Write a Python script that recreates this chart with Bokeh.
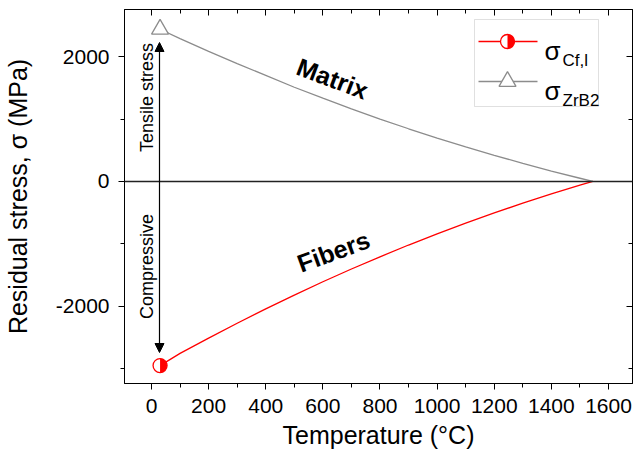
import math
from bokeh.plotting import figure
from bokeh.models import (Range1d, FixedTicker, LinearAxis, Span, Label, Arrow,
                          NormalHead, BoxAnnotation)
from bokeh.embed import file_html
from bokeh.resources import INLINE

# ---------------- data ----------------
TEMP = [30, 100, 200, 300, 400, 500, 600, 700, 800, 900, 1000, 1100, 1200, 1300, 1400, 1500, 1545]
SIGMA_ZRB2 = [2440, 2290, 2085, 1890, 1700, 1510, 1335, 1165, 1000, 845, 695, 555, 420, 290, 168, 52, 0]
SIGMA_CF = [-2950, -2755, -2510, -2272, -2042, -1822, -1607, -1402, -1207, -1018, -838, -666, -503, -348, -200, -58, 0]

X_TICKS = [0, 200, 400, 600, 800, 1000, 1200, 1400, 1600]
X_TICK_LABELS = ["0", "200", "400", "600", "800", "1000", "1200", "1400", "1600"]
X_MINOR = [100, 300, 500, 700, 900, 1100, 1300, 1500]
Y_TICKS = [-2000, 0, 2000]
Y_TICK_LABELS = ["-2000", "0", "2000"]
Y_MINOR = [-3000, -1000, 1000]

LEGEND_LABELS = ["Cf,l", "ZrB2"]

# ---------------- layout ----------------
X0, X1 = -94.5, 1684.0
Y0, Y1 = -3237.0, 2756.0
FL, FR, FT, FB = 124, 632, 9, 383  # frame edges in picture pixels
FONT = "Liberation Sans"


def dx(px):
    return X0 + (px - FL) / (FR - FL) * (X1 - X0)


def dy(py):
    return Y1 - (py - FT) / (FB - FT) * (Y1 - Y0)


p = figure(frame_width=FR - FL, frame_height=FB - FT,
           x_range=Range1d(X0, X1), y_range=Range1d(Y0, Y1),
           output_backend="svg", toolbar_location=None,
           min_border_left=FL, min_border_right=1,
           min_border_top=FT, min_border_bottom=76,
           background_fill_color="white", border_fill_color="white")
p.grid.visible = False
p.outline_line_color = "black"
p.outline_line_width = 1

# bottom / left axes
for ax, ticks, minor, labels in ((p.xaxis[0], X_TICKS, X_MINOR, X_TICK_LABELS),
                                 (p.yaxis[0], Y_TICKS, Y_MINOR, Y_TICK_LABELS)):
    ax.ticker = FixedTicker(ticks=ticks, minor_ticks=minor)
    ax.major_label_overrides = dict(zip(ticks, labels))
    ax.major_tick_out = 6
    ax.major_tick_in = 0
    ax.minor_tick_out = 4
    ax.minor_tick_in = 0
    ax.axis_line_color = "black"
    ax.major_tick_line_color = "black"
    ax.minor_tick_line_color = "black"
    ax.major_label_text_font = FONT
    ax.major_label_text_font_size = "21px"
    ax.major_label_text_color = "black"
    ax.axis_label_text_font = FONT
    ax.axis_label_text_font_size = "25px"
    ax.axis_label_text_font_style = "normal"
    ax.axis_label_text_color = "black"

p.xaxis[0].axis_label = "Temperature (°C)"
p.xaxis[0].major_label_standoff = 9
p.xaxis[0].axis_label_standoff = 5
p.yaxis[0].axis_label = "Residual stress, σ (MPa)"
p.yaxis[0].major_label_standoff = 9
p.yaxis[0].axis_label_standoff = 21

# mirror axes (ticks inside, no labels)
for loc, ticks, minor in (("above", X_TICKS, X_MINOR), ("right", Y_TICKS, Y_MINOR)):
    ax = LinearAxis(ticker=FixedTicker(ticks=ticks, minor_ticks=minor),
                    major_label_overrides={t: "" for t in ticks},
                    major_label_text_font_size="0px", major_label_standoff=0,
                    major_tick_in=6, major_tick_out=0,
                    minor_tick_in=4, minor_tick_out=0,
                    axis_line_color="black", major_tick_line_color="black",
                    minor_tick_line_color="black")
    p.add_layout(ax, loc)

# zero line
p.add_layout(Span(location=0, dimension="width", line_color="#222222", line_width=1.5))

# curves
p.line(TEMP, SIGMA_ZRB2, line_color="#8c8c8c", line_width=1.3)
p.line(TEMP, SIGMA_CF, line_color="#ff0000", line_width=1.3)

# markers at the first point
p.scatter([TEMP[0]], [SIGMA_ZRB2[0]], marker="triangle", size=17,
          fill_color="white", line_color="#8c8c8c", line_width=1.3)
p.scatter([TEMP[0]], [SIGMA_CF[0]], marker="circle", size=14,
          fill_color="white", line_color=None)
p.wedge([TEMP[0]], [SIGMA_CF[0]], radius=7, radius_units="screen",
        start_angle=-math.pi / 2, end_angle=math.pi / 2,
        fill_color="#ff0000", line_color=None)
p.scatter([TEMP[0]], [SIGMA_CF[0]], marker="circle", size=14,
          fill_color=None, line_color="#ff0000", line_width=1.3)

# double arrow
head = dict(size=9, fill_color="black", line_color="black", line_width=1)
p.add_layout(Arrow(start=NormalHead(**head), end=NormalHead(**head),
                   x_start=dx(159), y_start=dy(352), x_end=dx(159), y_end=dy(42),
                   line_color="black", line_width=1.2))

# text labels
p.add_layout(Label(x=dx(146), y=dy(97), text="Tensile stress", angle=math.pi / 2,
                   text_align="center", text_baseline="middle",
                   text_font=FONT, text_font_size="18px", text_color="black"))
p.add_layout(Label(x=dx(146), y=dy(266), text="Compressive", angle=math.pi / 2,
                   text_align="center", text_baseline="middle",
                   text_font=FONT, text_font_size="18px", text_color="black"))
p.add_layout(Label(x=dx(332), y=dy(78), text="Matrix", angle=-0.36,
                   text_align="center", text_baseline="middle",
                   text_font=FONT, text_font_size="25px", text_font_style="bold",
                   text_color="black"))
p.add_layout(Label(x=dx(333), y=dy(251), text="Fibers", angle=0.35,
                   text_align="center", text_baseline="middle",
                   text_font=FONT, text_font_size="25px", text_font_style="bold",
                   text_color="black"))

# legend (drawn by hand for the subscripts)
p.add_layout(BoxAnnotation(left=dx(474), right=dx(598), top=dy(19), bottom=dy(106),
                           fill_color="white", fill_alpha=1, line_color="#999999",
                           line_width=1, level="annotation"))
ly = [41, 81]
p.line([dx(478), dx(537)], [dy(ly[0])] * 2, line_color="#ff0000", line_width=1.3, level="overlay")
p.line([dx(478), dx(537)], [dy(ly[1])] * 2, line_color="#8c8c8c", line_width=1.3, level="overlay")
p.scatter([dx(507)], [dy(ly[0])], marker="circle", size=14, fill_color="white",
          line_color=None, level="overlay")
p.wedge([dx(507)], [dy(ly[0])], radius=7, radius_units="screen",
        start_angle=-math.pi / 2, end_angle=math.pi / 2,
        fill_color="#ff0000", line_color=None, level="overlay")
p.scatter([dx(507)], [dy(ly[0])], marker="circle", size=14, fill_color=None,
          line_color="#ff0000", line_width=1.3, level="overlay")
p.scatter([dx(507)], [dy(ly[1])], marker="triangle", size=17, fill_color="white",
          line_color="#8c8c8c", line_width=1.3, level="overlay")
for i, sub in enumerate(LEGEND_LABELS):
    base = ly[i] + 9
    p.add_layout(Label(x=dx(544), y=dy(base), text="σ", text_align="left",
                       text_baseline="alphabetic", text_font=FONT,
                       text_font_size="26px", text_color="black", level="overlay"))
    p.add_layout(Label(x=dx(562), y=dy(base + 10), text=sub, text_align="left",
                       text_baseline="alphabetic", text_font=FONT,
                       text_font_size="17px", text_color="black", level="overlay"))

open("out.html", "w").write(file_html(p, INLINE))
